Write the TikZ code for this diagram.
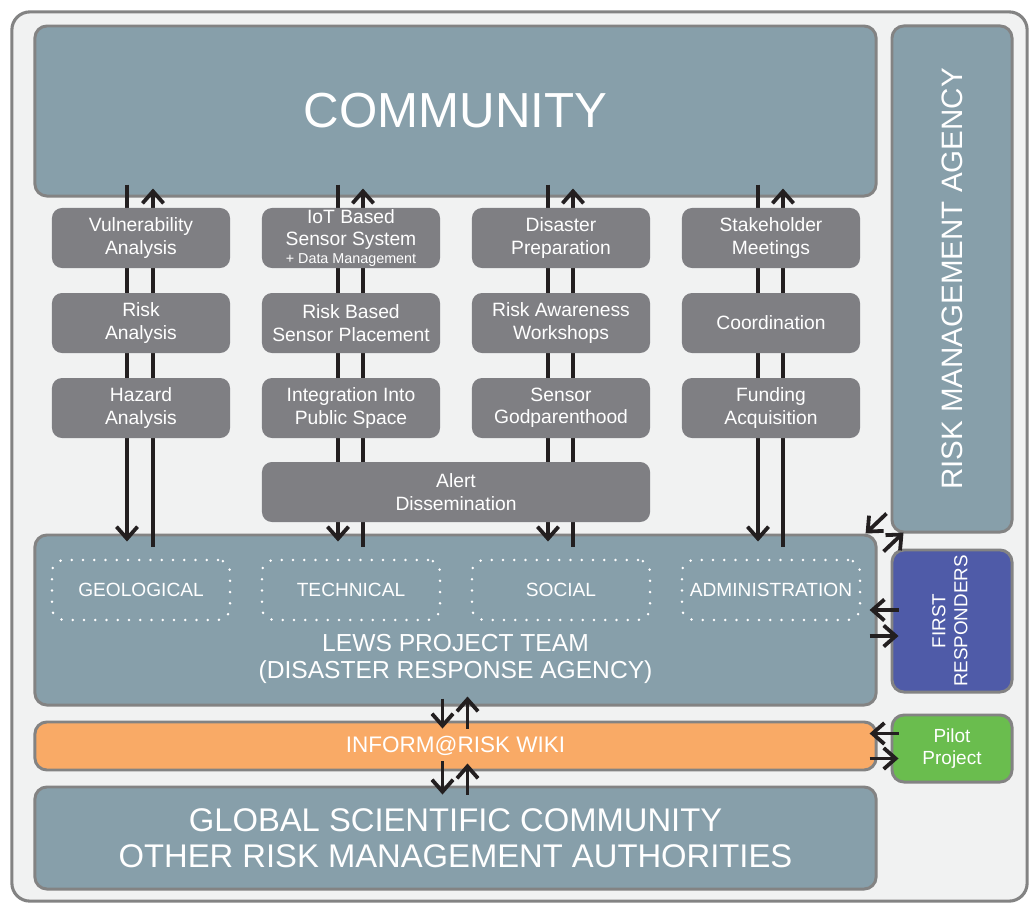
\documentclass[tikz,border=0pt]{standalone}
\usepackage{fontspec}
\setmainfont{Liberation Sans}
\usetikzlibrary{arrows.meta,calc}
\definecolor{panel}{HTML}{F1F2F2}
\definecolor{edgegray}{HTML}{838383}
\definecolor{slate}{HTML}{879FAA}
\definecolor{taskgray}{HTML}{7F7F83}
\definecolor{responder}{HTML}{4F5BA8}
\definecolor{wikiorange}{HTML}{F9AA66}
\definecolor{pilotgreen}{HTML}{6ABD4E}
\definecolor{ink}{HTML}{231F20}

\begin{document}
\begin{tikzpicture}[x=0.025cm,y=-0.025cm,
    unit/.style={draw=edgegray,line width=2.1pt,rounded corners=0.3cm,fill=slate,text=white,align=center,inner sep=0pt},
    task/.style={fill=taskgray,rounded corners=0.25cm,text=white,align=center,inner sep=0pt,minimum width=4.45cm,minimum height=1.5cm,font=\fontsize{13.7}{15.8}\selectfont},
    group/.style={draw=white,line width=2pt,dash pattern=on 0pt off 8pt,line cap=round,rounded corners=0.3cm,text=white,inner sep=0pt,minimum width=4.45cm,minimum height=1.5cm,font=\fontsize{13.6}{15}\selectfont},
    arr/.style={draw=ink,line width=2.7pt,-{Straight Barb[length=8.5pt,width=15pt]}}]
    \useasboundingbox (0,0) rectangle (1030,902);
    \node[draw=edgegray,line width=2.2pt,fill=panel,rounded corners=0.45cm,inner sep=0pt,minimum width=25.375cm,minimum height=22.225cm] (frame) at (519.5,456.5) {};

    \node[unit,minimum width=21.025cm,minimum height=4.25cm,font=\fontsize{35}{40}\selectfont] (community) at (455.5,111) {COMMUNITY};
    \node[unit,minimum width=3cm,minimum height=12.65cm,font=\fontsize{21}{24}\selectfont] (rma) at (952,279) {\rotatebox{90}{RISK MANAGEMENT AGENCY}};
    \node[unit,minimum width=21.025cm,minimum height=4.25cm] (lews) at (455.5,620) {};
    \node[text=white,align=center,font=\fontsize{17.5}{18.6}\selectfont] (lewstext) at (455.5,659) {LEWS PROJECT TEAM\\(DISASTER RESPONSE AGENCY)};
    \node[unit,fill=responder,minimum width=3cm,minimum height=3.55cm,font=\fontsize{13.4}{15.6}\selectfont] (first) at (952,621) {\rotatebox{90}{\begin{tabular}{@{}c@{}}FIRST\\RESPONDERS\end{tabular}}};
    \node[unit,fill=wikiorange,minimum width=21.025cm,minimum height=1.2cm,font=\fontsize{16}{19}\selectfont] (wiki) at (455.5,746) {INFORM@RISK WIKI};
    \node[unit,fill=pilotgreen,minimum width=3cm,minimum height=1.675cm,font=\fontsize{13.5}{15.5}\selectfont] (pilot) at (952,748.5) {Pilot\\Project};
    \node[unit,minimum width=21.025cm,minimum height=2.55cm,font=\fontsize{23.3}{25.6}\selectfont] (global) at (455.5,838) {GLOBAL SCIENTIFIC COMMUNITY\\OTHER RISK MANAGEMENT AUTHORITIES};

    \node[group] (geo) at (141,590) {GEOLOGICAL};
    \node[group] (tech) at (351,590) {TECHNICAL};
    \node[group] (social) at (561,590) {SOCIAL};
    \node[group] (admin) at (771,590) {ADMINISTRATION};

    \foreach \x in {127,338,548,758}
        \draw[arr] ($(\x,0 |- community.south)+(0,-13)$) -- ($(\x,0 |- lews.north)+(0,8)$);
    \foreach \x in {153,363,573,783}
        \draw[arr] ($(\x,0 |- lews.north)+(0,13)$) -- ($(\x,0 |- community.south)+(0,-9)$);

    \node[task] (vul) at (141,238) {Vulnerability\\Analysis};
    \node[task] (riskan) at (141,323) {Risk\\Analysis};
    \node[task] (hazard) at (141,408) {Hazard\\Analysis};
    \node[task] (iot) at (351,238) {IoT Based\\Sensor System\\[-3pt]{\fontsize{10.2}{11}\selectfont + Data Management}};
    \node[task] (placement) at (351,323) {Risk Based\\Sensor Placement};
    \node[task] (integration) at (351,408) {Integration Into\\Public Space};
    \node[task] (prep) at (561,238) {Disaster\\Preparation};
    \node[task] (workshops) at (561,323) {Risk Awareness\\Workshops};
    \node[task] (godparent) at (561,408) {Sensor\\Godparenthood};
    \node[task] (stake) at (771,238) {Stakeholder\\Meetings};
    \node[task] (coord) at (771,323) {Coordination};
    \node[task] (funding) at (771,408) {Funding\\Acquisition};
    \node[task,minimum width=9.7cm] (alert) at (456,492) {Alert\\Dissemination};

    \draw[arr] ($(lews.south)+(-13,-8)$) -- ($(wiki.north)+(-13,8)$);
    \draw[arr] ($(wiki.north)+(12,8)$) -- ($(lews.south)+(12,-10)$);
    \draw[arr] ($(wiki.south)+(-13,-10)$) -- ($(global.north)+(-13,9)$);
    \draw[arr] ($(global.north)+(12,9)$) -- ($(wiki.south)+(12,-8)$);

    \draw[arr] ($(rma.south west)+(-4,-20)$) -- ($(lews.north east)+(-12,0)$);
    \draw[arr] ($(lews.north east)+(6,18)$) -- ($(rma.south west)+(13,-1)$);
    \draw[arr] ($(first.west)+(8,-11)$) -- ($(first.west -| lews.east)+(-8,-11)$);
    \draw[arr] ($(first.west -| lews.east)+(-8,15)$) -- ($(first.west)+(8,15)$);
    \draw[arr] ($(pilot.west)+(8,-15)$) -- ($(pilot.west -| wiki.east)+(-8,-15)$);
    \draw[arr] ($(pilot.west -| wiki.east)+(-8,10)$) -- ($(pilot.west)+(8,10)$);
\end{tikzpicture}
\end{document}
